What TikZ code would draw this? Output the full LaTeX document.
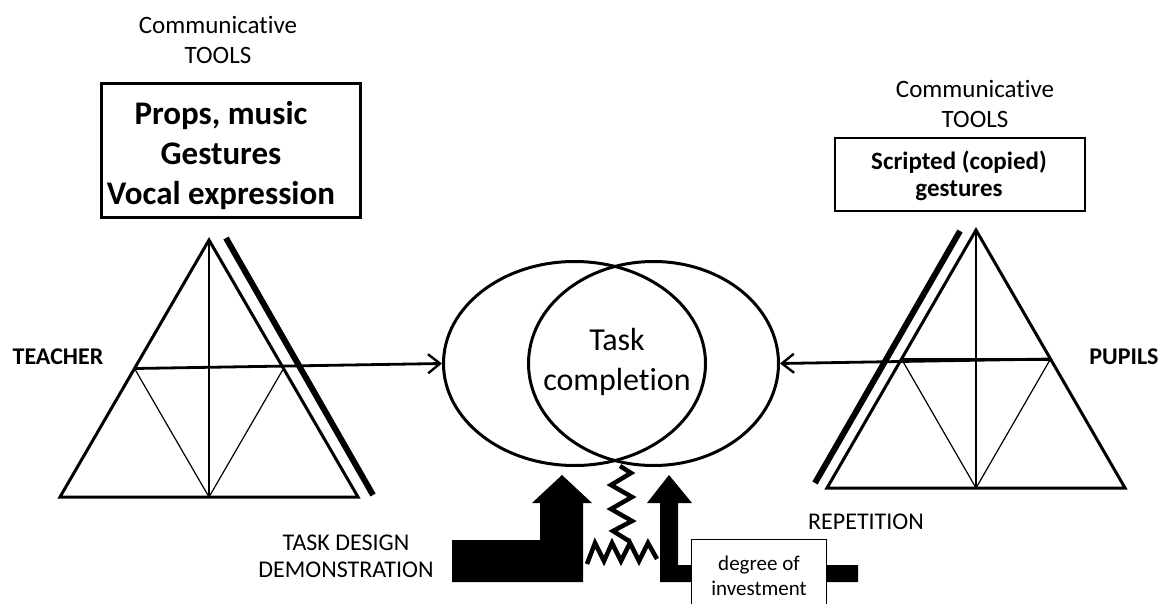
\documentclass[tikz,border=0pt]{standalone}
\usepackage{fontspec}
\setmainfont[Ligatures=NoCommon]{Carlito}
\usetikzlibrary{shapes.geometric,arrows.meta}
\begin{document}
\begin{tikzpicture}[x=1pt,y=-1pt,
  label/.style={inner sep=0pt, align=center, font=\fontsize{25}{30}\selectfont},
  boldlabel/.style={inner sep=0pt, align=center, font=\bfseries\fontsize{24}{28}\selectfont},
  toolbox/.style={draw, line width=3pt, inner sep=0pt},
  edge/.style={line width=3pt, line join=miter},
  inner/.style={line width=1.2pt},
  barline/.style={line width=6pt},
  link/.style={line width=2.8pt, -{Straight Barb[length=12pt,width=19pt,line width=2.4pt]}},
  blob/.style={ellipse, draw, line width=3pt, inner sep=0pt},
  spring/.style={line width=4.5pt, line join=miter},
  blockarrow/.style={fill=black, draw=none}]
\useasboundingbox (0,0) rectangle (1166,604);

% ---- teacher side ----
\node[label] (ctoolsL) at (218,40) {Communicative\\TOOLS};
\node[toolbox, minimum width=259pt, minimum height=133pt] (tboxL) at (230.5,150.5) {};
\node[inner sep=0pt, align=center, font=\bfseries\fontsize{33}{40}\selectfont] (ttextL) at (221,156) {Props, music\\Gestures\\Vocal expression};

\coordinate (tLa) at (209,240);
\coordinate (tLbl) at (60,497);
\coordinate (tLbr) at (358,497);
\coordinate (tLml) at (134.5,368.5);
\coordinate (tLmr) at (283.5,368.5);
\coordinate (tLbm) at (209,497);
\draw[edge] (tLa) -- (tLbl) -- (tLbr) -- cycle;
\draw[inner] (tLa) -- (tLbm);
\draw[inner] (tLml) -- (tLbm) -- (tLmr);
\coordinate (barLa) at (226,238);
\coordinate (barLb) at (373,495);
\draw[barline] (barLa) -- (barLb);
\node[boldlabel] (teacher) at (58,357) {TEACHER};

% ---- pupils side ----
\node[label] (ctoolsR) at (975,104) {Communicative\\TOOLS};
\node[toolbox, line width=2.6pt, minimum width=250pt, minimum height=73pt] (tboxR) at (960,174.5) {};
\node[inner sep=0pt, align=center, font=\bfseries\fontsize{25}{27}\selectfont] (ttextR) at (959,176) {Scripted (copied)\\gestures};

\coordinate (tRa) at (976,230);
\coordinate (tRbl) at (827,488);
\coordinate (tRbr) at (1125,488);
\coordinate (tRml) at (901.5,359);
\coordinate (tRmr) at (1050.5,359);
\coordinate (tRbm) at (976,488);
\draw[edge] (tRa) -- (tRbl) -- (tRbr) -- cycle;
\draw[inner] (tRa) -- (tRbm);
\draw[inner] (tRml) -- (tRbm) -- (tRmr);
\draw[edge] (tRml) -- (tRmr);
\coordinate (barRa) at (960,231);
\coordinate (barRb) at (815,483);
\draw[barline] (barRa) -- (barRb);
\node[boldlabel] (pupils) at (1124,357) {PUPILS};

% ---- overlapping ellipses ----
\node[blob, minimum width=262pt, minimum height=204pt] (ellL) at (574.5,363.5) {};
\node[blob, minimum width=250pt, minimum height=204pt] (ellR) at (653.5,363.5) {};
\node[inner sep=0pt, align=center, font=\fontsize{32}{40}\selectfont] (task) at (617,362) {Task\\completion};

\draw[link] (tLml) -- (ellL.west);
\draw[link] (tRmr) -- (ellR.east);

% ---- spring below the ellipses ----
\coordinate (springTop) at (620,466);
\draw[spring] (springTop) -- (631,473) -- (611,485) -- (632,497) -- (611,509) -- (632,521) -- (613,531) -- (629,541);
\draw[spring] (587,564) -- (595,543) -- (604,561) -- (612,543) -- (621,561) -- (630,543) -- (639,561) -- (648,543) -- (657,559);

% ---- block arrows ----
\fill[blockarrow] (452,540) -- (540,540) -- (540,503) -- (532,503) -- (562,475)
  -- (592,503) -- (583,503) -- (583,582) -- (452,582) -- cycle;
\fill[blockarrow] (660,582) -- (660,503) -- (647,503) -- (669,475) -- (692,503)
  -- (678,503) -- (678,565) -- (858,565) -- (858,582) -- cycle;

\node[draw, fill=white, line width=1pt, anchor=north west, minimum width=135pt, minimum height=72pt,
  inner sep=0pt, align=center, font=\fontsize{21}{25}\selectfont] (invest) at (691,539) {degree of\\investment};

\node[inner sep=0pt, align=center, font=\fontsize{24}{27}\selectfont] (design) at (346,556) {TASK DESIGN\\DEMONSTRATION};
\node[inner sep=0pt, font=\fontsize{24}{27}\selectfont] (repeat) at (866,522) {REPETITION};
\end{tikzpicture}
\end{document}
